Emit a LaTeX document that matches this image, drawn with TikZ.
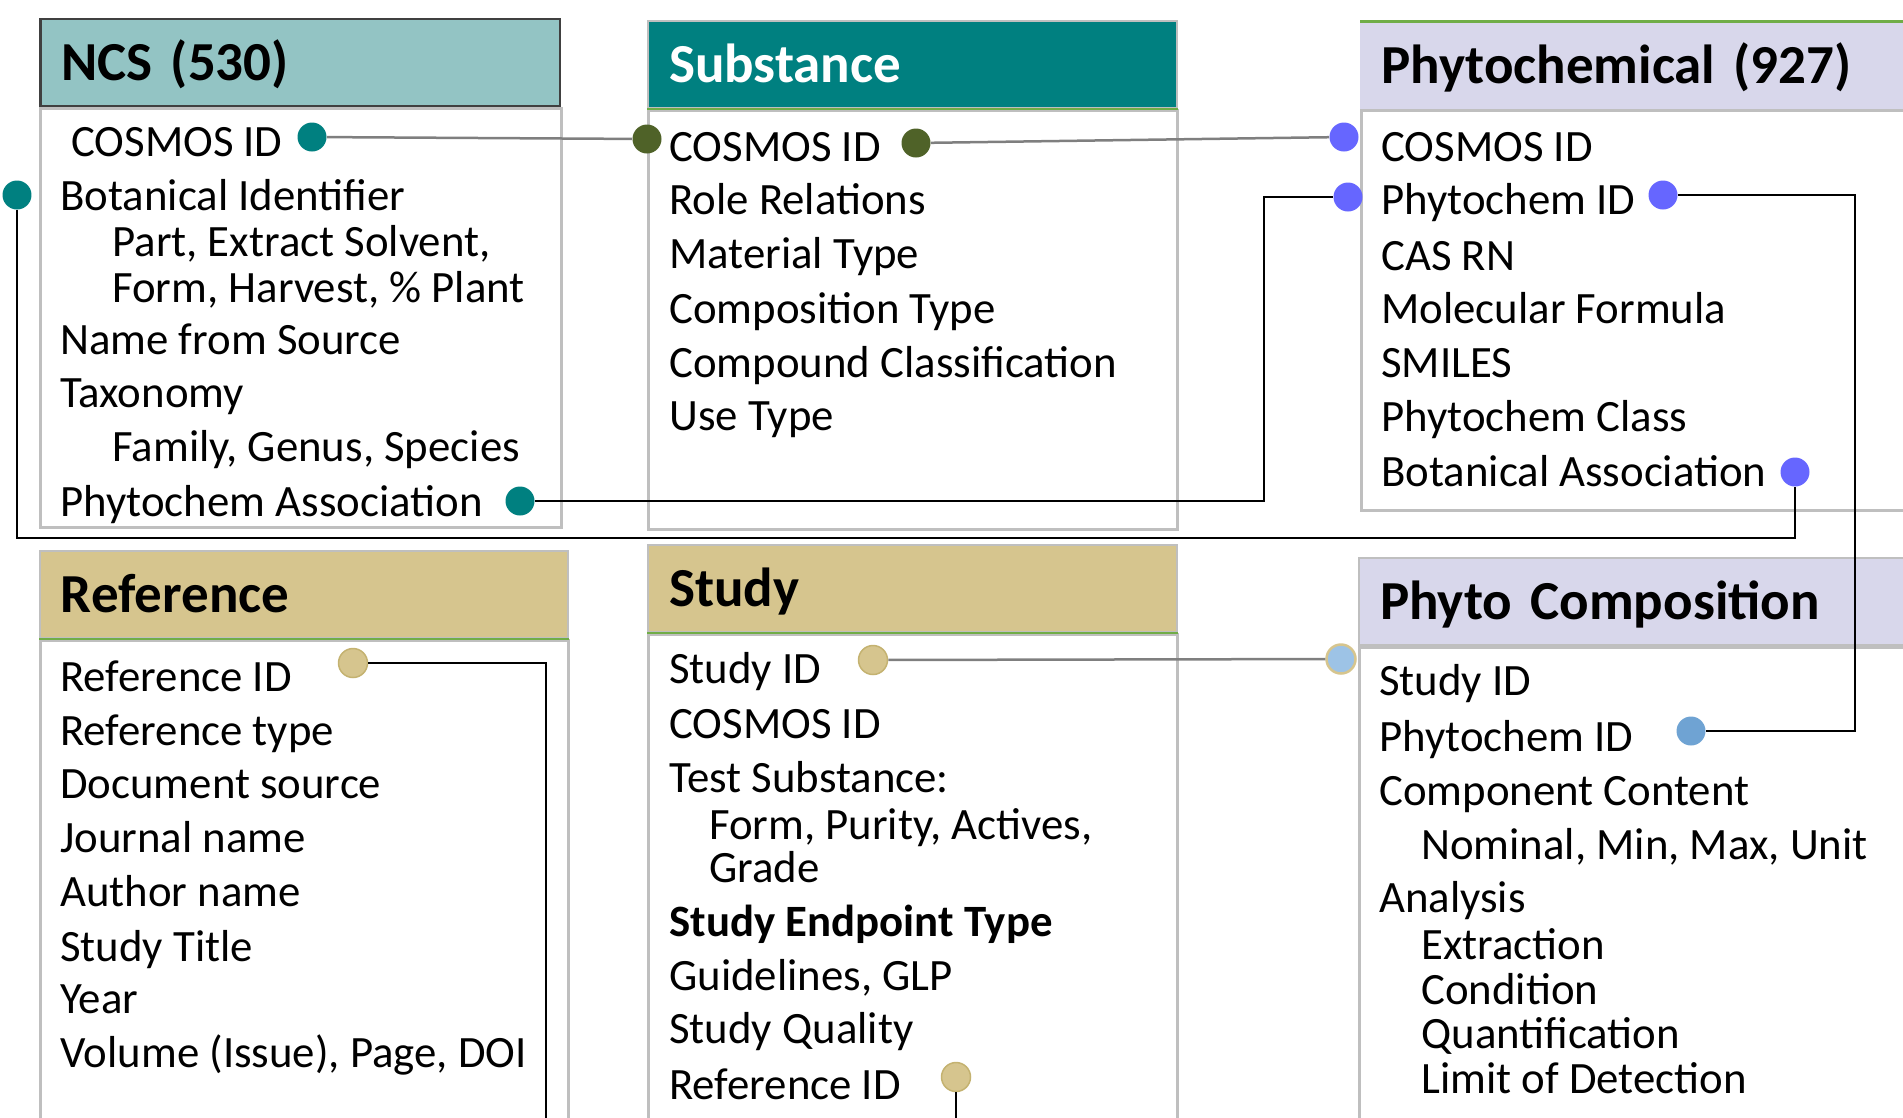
\documentclass[tikz,border=0pt]{standalone}
\usepackage{fontspec}
\setmainfont{Carlito}

\definecolor{ncshead}{RGB}{147,196,196}
\definecolor{ncsteal}{RGB}{0,128,128}
\definecolor{subolive}{RGB}{79,98,40}
\definecolor{phyblue}{RGB}{102,102,255}
\definecolor{lavender}{RGB}{216,215,235}
\definecolor{khaki}{RGB}{214,197,142}
\definecolor{khakiline}{RGB}{196,178,112}
\definecolor{pclight}{RGB}{157,195,230}
\definecolor{pcsteel}{RGB}{111,163,211}
\definecolor{bodygray}{RGB}{191,191,191}
\definecolor{hdrdark}{RGB}{64,64,64}
\definecolor{hdrgreen}{RGB}{112,173,71}
\definecolor{linkgray}{RGB}{127,127,127}

\newcommand\ttlfont{\fontsize{31.3}{37}\selectfont\bfseries}
\newcommand\fldfont{\fontsize{25.5}{30}\selectfont}

\begin{document}
\begin{tikzpicture}[
    x=0.02cm, y=-0.02cm,
    tblbody/.style={draw=bodygray, line width=0.06cm, anchor=north west, inner sep=0pt},
    tblhead/.style={anchor=south west, minimum height=1.74cm, text height=0.72cm, text depth=0pt,
        inner xsep=0.42cm, inner ysep=0pt, align=left, text width=#1, font=\ttlfont},
    fieldtxt/.style={anchor=base west, inner sep=0pt, font=\fldfont},
    keydot/.style={circle, inner sep=0pt, minimum size=0.58cm},
    idlink/.style={draw=linkgray, line width=0.05cm},
    keylink/.style={draw=black, line width=0.05cm}
]
    \path[use as bounding box, clip] (0,0) rectangle (1903,1117);

    % tables
    \node[tblbody, minimum width=10.42cm, minimum height=8.38cm] (ncs) at (39,107) {};
    \node[tblhead=9.56cm, fill=ncshead, draw=hdrdark, line width=0.05cm] (ncs-head) at (ncs.north west) {NCS (530)};

    \node[tblbody, minimum width=10.58cm, minimum height=8.38cm] (sub) at (647,109) {};
    \node[tblhead=9.74cm, fill=ncsteal, draw=bodygray, line width=0.04cm, text=white] (sub-head) at (sub.north west) {Substance};
    \draw[hdrgreen, line width=0.05cm] (sub-head.south west) -- (sub-head.south east);

    \node[tblbody, minimum width=12.8cm, minimum height=8cm] (phy) at (1360,109) {};
    \node[tblhead=11.96cm, fill=lavender] (phy-head) at (phy.north west) {Phytochemical (927)};
    \draw[hdrgreen, line width=0.05cm] (phy-head.north west) -- (phy-head.north east);

    \node[tblbody, minimum width=10.56cm, minimum height=11.22cm] (ref) at (39,639) {};
    \node[tblhead=9.72cm, fill=khaki, draw=bodygray, line width=0.04cm] (ref-head) at (ref.north west) {Reference};
    \draw[hdrgreen, line width=0.05cm] (ref-head.south west) -- (ref-head.south east);

    \node[tblbody, minimum width=10.58cm, minimum height=11.34cm] (stu) at (647,633) {};
    \node[tblhead=9.74cm, fill=khaki, draw=bodygray, line width=0.04cm] (stu-head) at (stu.north west) {Study};
    \draw[hdrgreen, line width=0.05cm] (stu-head.south west) -- (stu-head.south east);

    \node[tblbody, minimum width=12.84cm, minimum height=11.08cm] (pc) at (1358,646) {};
    \node[tblhead=12cm, fill=lavender, draw=bodygray, line width=0.04cm] (pc-head) at (pc.north west) {Phyto Composition};

    % NCS fields
    \node[fieldtxt] (ncs-f1) at (71,156) {COSMOS ID};
    \node[fieldtxt] (ncs-f2) at (60,210) {Botanical Identifier};
    \node[fieldtxt] (ncs-f3) at (112,256) {Part, Extract Solvent,};
    \node[fieldtxt] (ncs-f4) at (112,302) {Form, Harvest, \% Plant};
    \node[fieldtxt] (ncs-f5) at (60,354) {Name from Source};
    \node[fieldtxt] (ncs-f6) at (60,407) {Taxonomy};
    \node[fieldtxt] (ncs-f7) at (112,461) {Family, Genus, Species};
    \node[fieldtxt] (ncs-f8) at (60,516) {Phytochem Association};

    % Substance fields
    \node[fieldtxt] (sub-f1) at (669,161) {COSMOS ID};
    \node[fieldtxt] (sub-f2) at (669,214) {Role Relations};
    \node[fieldtxt] (sub-f3) at (669,268) {Material Type};
    \node[fieldtxt] (sub-f4) at (669,323) {Composition Type};
    \node[fieldtxt] (sub-f5) at (669,377) {Compound Classification};
    \node[fieldtxt] (sub-f6) at (669,430) {Use Type};

    % Phytochemical fields
    \node[fieldtxt] (phy-f1) at (1381,161) {COSMOS ID};
    \node[fieldtxt] (phy-f2) at (1381,214) {Phytochem ID};
    \node[fieldtxt] (phy-f3) at (1381,270) {CAS RN};
    \node[fieldtxt] (phy-f4) at (1381,323) {Molecular Formula};
    \node[fieldtxt] (phy-f5) at (1381,377) {SMILES};
    \node[fieldtxt] (phy-f6) at (1381,431) {Phytochem Class};
    \node[fieldtxt] (phy-f7) at (1381,486) {Botanical Association};

    % Reference fields
    \node[fieldtxt] (ref-f1) at (60,691) {Reference ID};
    \node[fieldtxt] (ref-f2) at (60,745) {Reference type};
    \node[fieldtxt] (ref-f3) at (60,798) {Document source};
    \node[fieldtxt] (ref-f4) at (60,852) {Journal name};
    \node[fieldtxt] (ref-f5) at (60,906) {Author name};
    \node[fieldtxt] (ref-f6) at (60,961) {Study Title};
    \node[fieldtxt] (ref-f7) at (60,1013) {Year};
    \node[fieldtxt] (ref-f8) at (60,1067) {Volume (Issue), Page, DOI};

    % Study fields
    \node[fieldtxt] (stu-f1) at (669,683) {Study ID};
    \node[fieldtxt] (stu-f2) at (669,738) {COSMOS ID};
    \node[fieldtxt] (stu-f3) at (669,792) {Test Substance:};
    \node[fieldtxt] (stu-f4) at (709,839) {Form, Purity, Actives,};
    \node[fieldtxt] (stu-f5) at (709,882) {Grade};
    \node[fieldtxt] (stu-f6) at (669,936) {\textbf{Study Endpoint Type}};
    \node[fieldtxt] (stu-f7) at (669,990) {Guidelines, GLP};
    \node[fieldtxt] (stu-f8) at (669,1043) {Study Quality};
    \node[fieldtxt] (stu-f9) at (669,1099) {Reference ID};

    % Phyto Composition fields
    \node[fieldtxt] (pc-f1) at (1379,695) {Study ID};
    \node[fieldtxt] (pc-f2) at (1379,751) {Phytochem ID};
    \node[fieldtxt] (pc-f3) at (1379,805) {Component Content};
    \node[fieldtxt] (pc-f4) at (1421,859) {Nominal, Min, Max, Unit};
    \node[fieldtxt] (pc-f5) at (1379,912) {Analysis};
    \node[fieldtxt] (pc-f6) at (1421,959) {Extraction};
    \node[fieldtxt] (pc-f7) at (1421,1004) {Condition};
    \node[fieldtxt] (pc-f8) at (1421,1048) {Quantification};
    \node[fieldtxt] (pc-f9) at (1421,1093) {Limit of Detection};

    % key dots
    \node[keydot, fill=ncsteal] (ncs-cid) at (312,137) {};
    \node[keydot, fill=ncsteal] (ncs-bot) at (17,195) {};
    \node[keydot, fill=ncsteal] (ncs-assoc) at (520,501) {};
    \node[keydot, fill=subolive] (sub-cidl) at (647,139) {};
    \node[keydot, fill=subolive] (sub-cidr) at (916,143) {};
    \node[keydot, fill=phyblue] (phy-cid) at (1344,137) {};
    \node[keydot, fill=phyblue] (phy-idl) at (1348,197) {};
    \node[keydot, fill=phyblue] (phy-idr) at (1663,195) {};
    \node[keydot, fill=phyblue] (phy-assoc) at (1795,472) {};
    \node[keydot, fill=khaki, draw=khakiline, line width=0.03cm] (ref-rid) at (353,663) {};
    \node[keydot, fill=khaki, draw=khakiline, line width=0.03cm] (stu-sid) at (873,660) {};
    \node[keydot, fill=khaki, draw=khakiline, line width=0.03cm] (stu-rid) at (956,1077) {};
    \node[keydot, fill=pclight, draw=khaki, line width=0.05cm] (pc-sid) at (1341,659) {};
    \node[keydot, fill=pcsteel] (pc-pid) at (1691,731) {};
    \coordinate (ref-out) at (546,1130);
    \coordinate (stu-out) at (956,1130);

    % links
    \draw[idlink] (ncs-cid) -- (sub-cidl);
    \draw[idlink] (sub-cidr) -- (phy-cid);
    \draw[idlink] (stu-sid) -- (pc-sid);
    \draw[keylink] (ncs-assoc) -- ++(744,0) |- (phy-idl);
    \draw[keylink] (ncs-bot) -- ++(0,343) -| (phy-assoc);
    \draw[keylink] (phy-idr) -- ++(192,0) |- (pc-pid);
    \draw[keylink] (ref-rid) -| (ref-out);
    \draw[keylink] (stu-rid) -- (stu-out);
\end{tikzpicture}
\end{document}
